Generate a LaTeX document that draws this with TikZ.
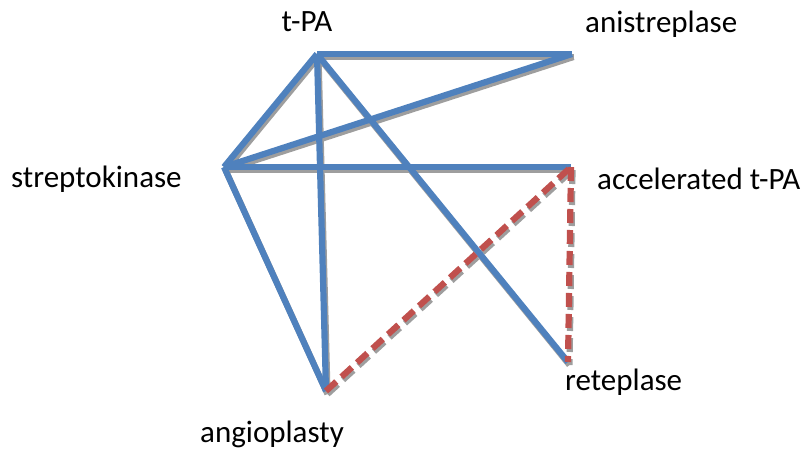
\documentclass[tikz,border=0pt]{standalone}
\usepackage{fontspec}
\setmainfont{Carlito}
\begin{document}
\begin{tikzpicture}[x=1pt,y=-1pt,
  lbl/.style={inner sep=0pt,font=\fontsize{31}{36}\selectfont},
  shadowline/.style={draw=black!38,line width=6.2pt,transform canvas={xshift=1.5pt,yshift=-3pt}},
  blueline/.style={draw={rgb,255:red,79;green,129;blue,189},line width=6.2pt},
  redline/.style={draw={rgb,255:red,192;green,80;blue,77},line width=6.2pt,dash pattern=on 14pt off 7pt},
  redshadow/.style={draw=black!38,line width=6.2pt,dash pattern=on 14pt off 7pt,transform canvas={xshift=1.5pt,yshift=-3pt}}]
\useasboundingbox (0,0) rectangle (808,450);
\coordinate (tpa) at (317,54);
\coordinate (ani) at (572,54);
\coordinate (strep) at (224,167);
\coordinate (acc) at (571,167);
\coordinate (ret) at (568,362);
\coordinate (ang) at (326,391);
% shadows
\foreach \a/\b in {tpa/ani,tpa/strep,tpa/ang,tpa/ret,ani/strep,strep/acc,strep/ang}
  \draw[shadowline] (\a) -- (\b);
\draw[redshadow] (ang) -- (acc);
\draw[redshadow] (acc) -- (ret);
% edges
\foreach \a/\b in {tpa/ani,tpa/strep,tpa/ang,tpa/ret,ani/strep,strep/acc,strep/ang}
  \draw[blueline] (\a) -- (\b);
\draw[redline] (ang) -- (acc);
\draw[redline] (acc) -- (ret);
% labels
\node[lbl] (ltpa) at (307,22) {t-PA};
\node[lbl,anchor=west] (lani) at (585,24) {anistreplase};
\node[lbl,anchor=west] (lstrep) at (11,179) {streptokinase};
\node[lbl,anchor=west] (lacc) at (597,179) {accelerated t-PA};
\node[lbl,anchor=west] (lret) at (565,382) {reteplase};
\node[lbl,anchor=west] (lang) at (200,434) {angioplasty};
\end{tikzpicture}
\end{document}
